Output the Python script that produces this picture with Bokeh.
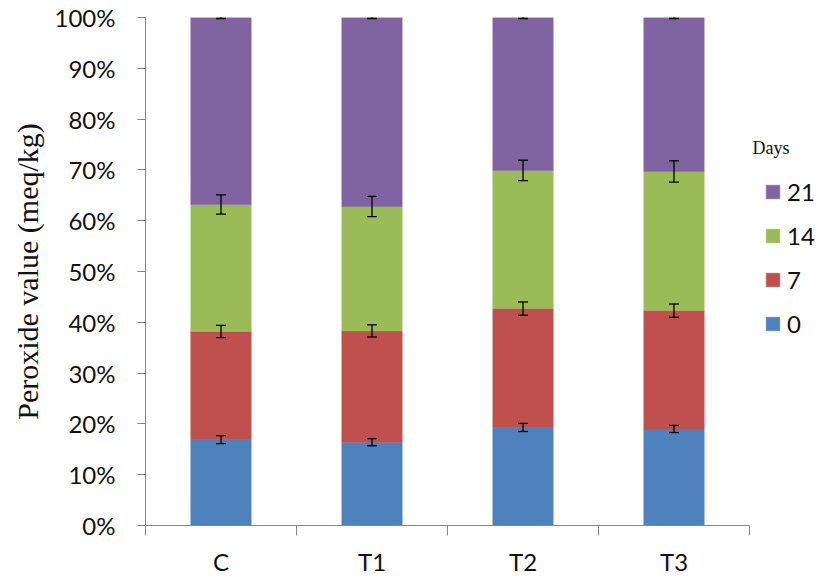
import numpy as np
from bokeh.plotting import figure
from bokeh.models import (ColumnDataSource, FixedTicker, Whisker, TeeHead, Legend,
                          LegendItem, Title, Label)
from bokeh.embed import file_html
from bokeh.resources import INLINE

# ---- data (percent of total peroxide value) ----
categories = ["C", "T1", "T2", "T3"]
days = ["0", "7", "14", "21"]
day0 = [16.9, 16.4, 19.3, 19.0]
day7 = [21.3, 21.9, 23.4, 23.3]
day14 = [25.0, 24.5, 27.2, 27.4]
day21 = [36.8, 37.2, 30.1, 30.3]
err0 = [0.8, 0.7, 0.8, 0.7]
err7 = [1.2, 1.2, 1.3, 1.3]
err14 = [1.9, 2.0, 2.0, 2.1]
err21 = [0.2, 0.2, 0.2, 0.2]
y_ticks = [0, 10, 20, 30, 40, 50, 60, 70, 80, 90, 100]

colors = ["#4F81BD", "#C0504D", "#9BBB59", "#8064A2"]
series = [day0, day7, day14, day21]
errors = [err0, err7, err14, err21]

SANS = "Lato"
SERIF = "Liberation Serif"

n = len(categories)
# frame spans to the right edge so the legend (inside the frame) is not clipped
p = figure(width=827, height=588, output_backend="svg", toolbar_location=None,
           x_range=(0, n * 682 / 604), y_range=(0, 100),
           min_border_left=145, min_border_right=0, min_border_top=17,
           min_border_bottom=63)
p.outline_line_color = None
p.grid.visible = False
p.background_fill_color = "white"

xpos = np.arange(n) + 0.5
bottom = np.zeros(n)
renderers = []
for vals, errs, col in zip(series, errors, colors):
    top = bottom + np.array(vals)
    src = ColumnDataSource(dict(x=xpos, bottom=bottom.copy(), top=top,
                                upper=top + np.array(errs), lower=top - np.array(errs)))
    r = p.vbar(x="x", width=0.4, bottom="bottom", top="top", source=src,
               fill_color=col, line_color=col, line_width=0.5)
    renderers.append(r)
    w = Whisker(base="x", upper="upper", lower="lower", source=src, dimension="height",
                level="overlay", line_color="black", line_width=1.3,
                upper_head=TeeHead(size=10, line_color="black", line_width=1.3),
                lower_head=TeeHead(size=10, line_color="black", line_width=1.3))
    p.add_layout(w)
    bottom = top

# x axis: labels at centres, ticks at category boundaries
p.xaxis.bounds = (0, n)
p.xaxis.ticker = FixedTicker(ticks=list(xpos), minor_ticks=list(range(n + 1)))
p.xaxis.major_label_overrides = {float(x): c for x, c in zip(xpos, categories)}
p.xaxis.major_tick_line_color = None
p.xaxis.major_tick_out = 0
p.xaxis.major_tick_in = 0
p.xaxis.minor_tick_out = 10
p.xaxis.minor_tick_in = 0
p.xaxis.minor_tick_line_color = "#868686"
p.xaxis.axis_line_color = "#868686"
p.xaxis.major_label_standoff = 11
p.xaxis.major_label_text_font = SANS
p.xaxis.major_label_text_font_size = "24px"
p.xaxis.major_label_text_color = "#111111"

# y axis
p.yaxis.ticker = FixedTicker(ticks=y_ticks)
p.yaxis.major_label_overrides = {t: f"{t}%" for t in y_ticks}
p.yaxis.major_tick_out = 8
p.yaxis.major_tick_in = 0
p.yaxis.minor_tick_line_color = None
p.yaxis.major_tick_line_color = "#868686"
p.yaxis.axis_line_color = "#868686"
p.yaxis.major_label_standoff = 22
p.yaxis.major_label_text_font = SANS
p.yaxis.major_label_text_font_size = "24px"
p.yaxis.major_label_text_color = "#111111"

# y axis title on the left side
ytitle = Title(text="Peroxide value (meq/kg)", align="center", standoff=15, offset=-8,
               text_font=SERIF, text_font_size="30px", text_font_style="normal",
               text_color="#111111")
p.add_layout(ytitle, "left")

# legend inside the (extended) frame, right of the bars
items = [LegendItem(label=d, renderers=[r]) for d, r in zip(days, renderers)][::-1]
legend = Legend(items=items, location=(619, 187), orientation="vertical",
                glyph_width=17, glyph_height=17, label_height=20, spacing=15,
                label_standoff=6, padding=0, margin=0,
                border_line_color=None, background_fill_alpha=0,
                label_text_font=SANS, label_text_font_size="24px",
                label_text_color="#111111")
p.add_layout(legend)

days_title = Label(x=607, y=378, x_units="screen", y_units="screen", text="Days",
                   text_align="left", text_baseline="middle",
                   text_font=SERIF, text_font_size="18px", text_color="#111111")
p.add_layout(days_title)

open("out.html", "w").write(file_html(p, INLINE))
